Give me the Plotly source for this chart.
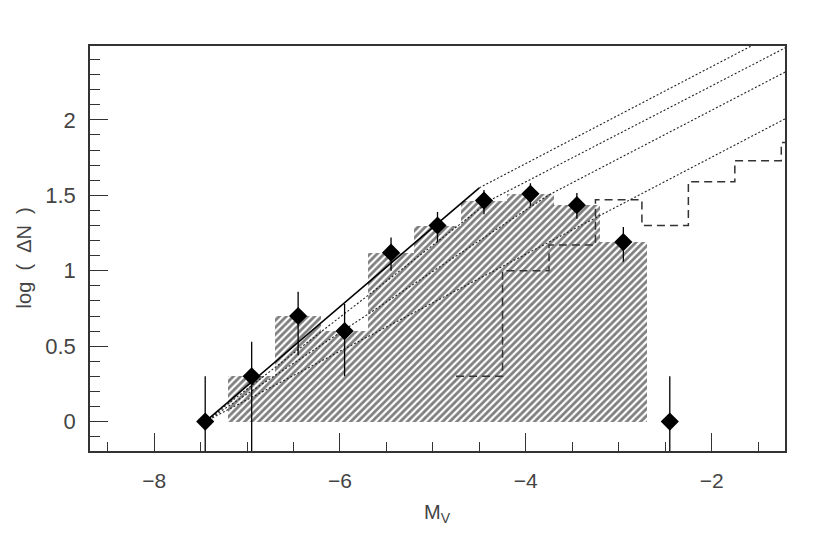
import plotly.graph_objects as go

# --- data ---
pt_mag = [-7.45, -6.95, -6.45, -5.95, -5.45, -4.95, -4.45, -3.95, -3.45, -2.95, -2.45]
pt_logn = [0.0, 0.30, 0.70, 0.60, 1.12, 1.30, 1.465, 1.51, 1.435, 1.19, 0.0]
err_up = [0.30, 0.23, 0.16, 0.18, 0.10, 0.09, 0.07, 0.07, 0.08, 0.10, 0.30]
err_dn = [1.0, 1.0, 0.26, 0.30, 0.12, 0.11, 0.09, 0.08, 0.09, 0.13, 1.0]

hatch_centers = [-6.95, -6.45, -5.95, -5.45, -4.95, -4.45, -3.95, -3.45, -2.95]
hatch_logn = [0.30, 0.70, 0.60, 1.12, 1.30, 1.465, 1.51, 1.435, 1.19]

dash_edges = [-4.75, -4.25, -3.75, -3.25, -2.75, -2.25, -1.75, -1.25, -1.2]
dash_logn = [0.30, 1.00, 1.17, 1.47, 1.30, 1.59, 1.73, 1.85, 1.85]

solid_x = [-7.45, -4.5]
solid_y = [0.0, 1.55]
dot1_x = [-4.5, -1.2]
dot1_y = [1.55, 2.61]
dot2_x = [-7.45, -4.36, -1.2]
dot2_y = [0.0, 1.475, 2.48]
dot3_x = [-7.45, -3.76, -1.2]
dot3_y = [0.0, 1.50, 2.32]
dot4_x = [-7.45, -1.2]
dot4_y = [0.0, 2.01]

x_ticks = [-8, -6, -4, -2]
y_ticks = [0, 0.5, 1, 1.5, 2]

fig = go.Figure()

fig.add_trace(go.Bar(
    x=hatch_centers, y=hatch_logn, width=0.5,
    marker=dict(color="white", line=dict(width=0),
                pattern=dict(shape="/", fgcolor="black", bgcolor="white",
                             size=5, solidity=0.55)),
    showlegend=False, hoverinfo="skip"))

fig.add_trace(go.Scatter(x=dash_edges, y=dash_logn, mode="lines", line_shape="hv",
                         line=dict(color="#333", width=1.5, dash="8px,5px"),
                         showlegend=False))

for xs, ys in [(dot1_x, dot1_y), (dot2_x, dot2_y), (dot3_x, dot3_y), (dot4_x, dot4_y)]:
    fig.add_trace(go.Scatter(x=xs, y=ys, mode="lines",
                             line=dict(color="#222", width=1.1, dash="2px,2px"),
                             showlegend=False))

fig.add_trace(go.Scatter(x=solid_x, y=solid_y, mode="lines",
                         line=dict(color="black", width=1.6), showlegend=False))

fig.add_trace(go.Scatter(
    x=pt_mag, y=pt_logn, mode="markers",
    marker=dict(symbol="diamond", size=14, color="black"),
    error_y=dict(type="data", array=err_up, arrayminus=err_dn, symmetric=False,
                 color="black", thickness=1.3, width=0),
    showlegend=False))

axis_font = dict(family="Liberation Sans, Arial, sans-serif", size=21, color="#444")

fig.update_layout(
    width=830, height=548,
    margin=dict(l=82, r=53, t=38, b=105),
    paper_bgcolor="white", plot_bgcolor="white",
    bargap=0,
    xaxis=dict(range=[-8.69, -1.21], tickvals=x_ticks, ticks="inside", ticklen=18,
               tickwidth=1.2, tickcolor="#333", showgrid=False, zeroline=False,
               showline=True, linecolor="#333", linewidth=1.5, mirror=True,
               tickfont=axis_font, ticklabelstandoff=10,
               minor=dict(dtick=0.5, tick0=0, ticks="inside", ticklen=9,
                          tickwidth=1.1, tickcolor="#333", showgrid=False)),
    yaxis=dict(range=[-0.195, 2.49], tickvals=y_ticks, ticks="inside", ticklen=18,
               tickwidth=1.2, tickcolor="#333", showgrid=False, zeroline=False,
               showline=True, linecolor="#333", linewidth=1.5, mirror=True,
               tickfont=dict(family="Liberation Sans, Arial, sans-serif", size=22, color="#444"),
               ticklabelstandoff=8,
               minor=dict(dtick=0.1, tick0=0, ticks="inside", ticklen=10,
                          tickwidth=1.1, tickcolor="#333", showgrid=False)),
    annotations=[
        dict(text="log  (  \u0394N  )", xref="paper", yref="paper", x=-0.095, y=0.478,
             textangle=-90, showarrow=False, xanchor="center", yanchor="middle",
             font=dict(family="Liberation Sans, Arial, sans-serif", size=20, color="#444")),
        dict(text="M<sub>V</sub>", xref="paper", yref="paper", x=0.5, y=-0.155,
             showarrow=False, xanchor="center", yanchor="middle",
             font=dict(family="Liberation Sans, Arial, sans-serif", size=20, color="#444")),
    ],
)

fig.write_html("out.html")
